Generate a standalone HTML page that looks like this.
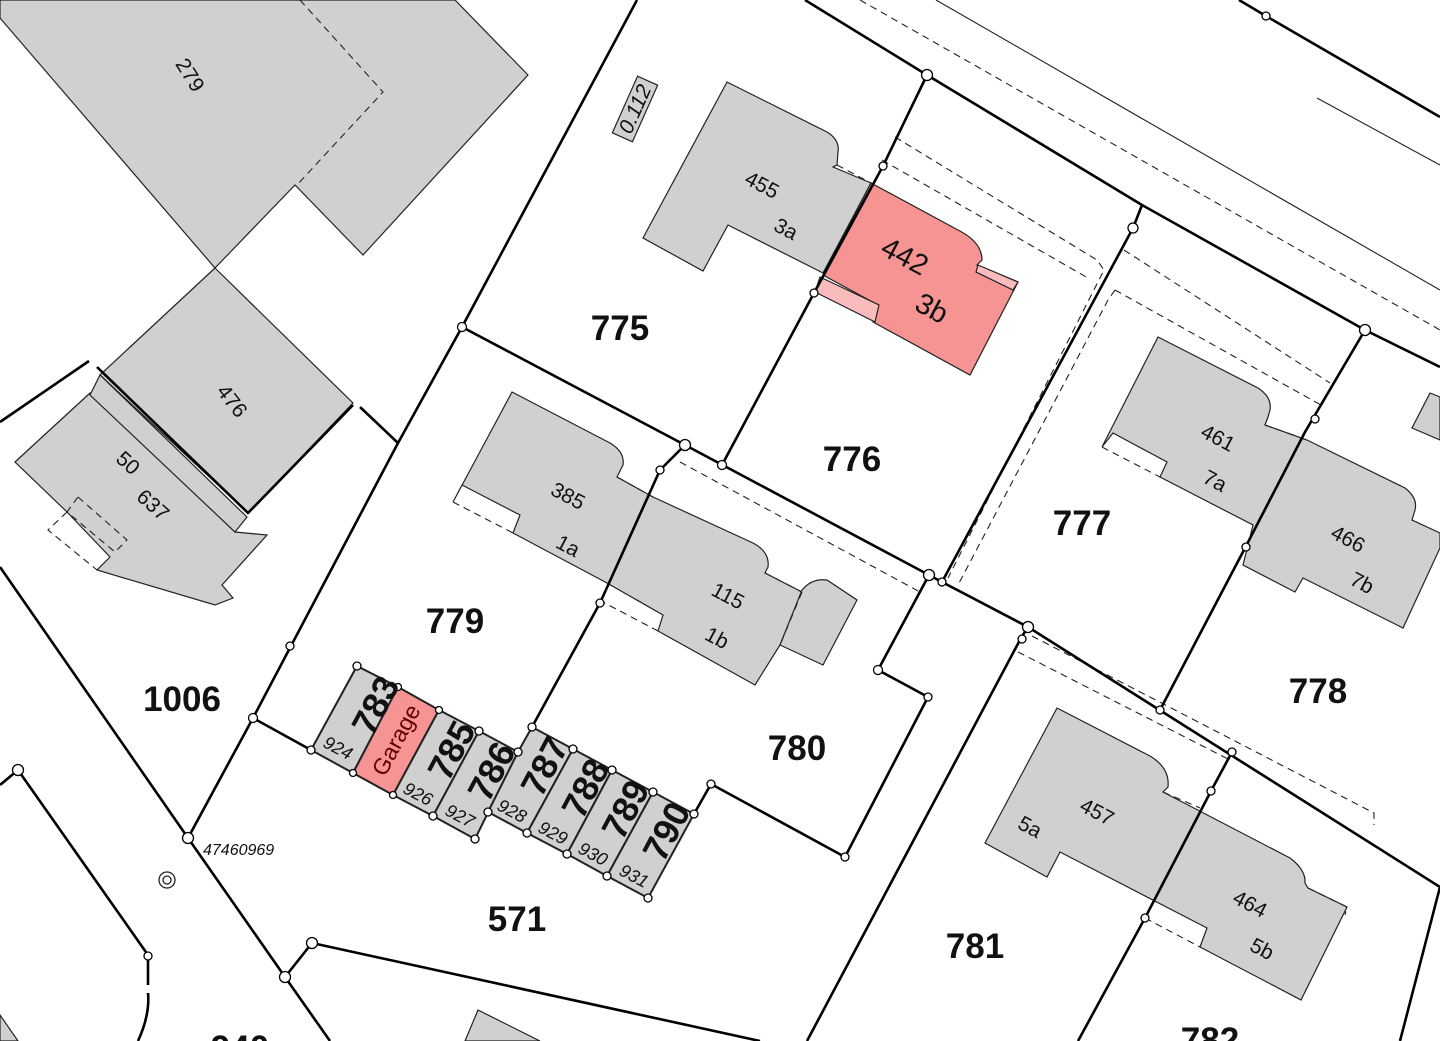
<!DOCTYPE html>
<html><head><meta charset="utf-8"><style>
html,body{margin:0;padding:0;background:#fff;}
svg{display:block;}
text{font-family:"Liberation Sans",sans-serif;fill:#111;}
.b{fill:#d0d0d0;stroke:#222;stroke-width:1.2;}
.r{fill:#f69494;stroke:#222;stroke-width:1.2;}
.lp{fill:#f8bcbc;stroke:#222;stroke-width:1.2;}
.t{fill:none;stroke:#000;stroke-width:2.6;stroke-linejoin:round;}
.th{fill:none;stroke:#222;stroke-width:1.1;}
.d{fill:none;stroke:#222;stroke-width:1.1;stroke-dasharray:7,5;}
.n{fill:#fff;stroke:#000;stroke-width:1.3;}
.p{font-weight:bold;font-size:35px;}
.s{font-size:21px;}
.g{font-size:36px;font-weight:bold;}
.gs{font-size:18px;font-style:italic;}
</style></head><body>
<svg width="1440" height="1041" viewBox="0 0 1440 1041" xmlns="http://www.w3.org/2000/svg">
<polygon class="b" points="0,0 455,0 528,75 363,255 295,185 215,268 0,18"/>
<polyline class="d" points="300,0 383,92 297,185"/>
<polygon class="b" points="215,268 353,403 248,513 100,375"/>
<polygon class="b" points="15,462 90,393 235,532 267,535 222,585 233,598 215,605 97,570 110,557 67,512"/>
<polygon class="b" points="90,395 100,375 247,517 235,532"/>
<polyline class="d" points="67,512 48,530 97,570"/>
<polygon class="d" points="78,497 127,540 115,552 67,512"/>
<rect x="604" y="98" width="62" height="22" class="b" transform="rotate(-66 635 109)"/>
<text x="635" y="116" class="s" font-style="italic" text-anchor="middle" transform="rotate(-66 635 109)">0.112</text>

<path class="b" d="M727,82 L827,132 Q840,140 838,152 L837,165 L833,167 L871,183 L823,273 L728,225 L703,271 L643,238 Z"/>
<polyline class="d" points="837,165 871,183"/>
<path class="r" d="M871,183 L958,230 Q982,242 982,260 L977,265 L1018,282 L970,375 L873,322 L878,305 L823,275 Z"/>
<polygon class="lp" points="820,277 879,305 875,322 815,292"/>
<polygon class="lp" points="978,265 1018,282 1013,290 976,272"/>

<path class="b" d="M512,392 L610,443 Q625,452 623,465 L617,477 L653,497 L753,543 Q770,552 768,567 L765,573 L802,592 L780,645 L755,685 L658,631 L663,615 L607,583 L513,533 L520,515 L462,485 L453,502 Z"/>
<polyline class="d" points="453,502 513,533"/>
<polyline class="d" points="599,600 658,631"/>
<polyline class="d" points="617,477 653,497"/>
<polyline class="d" points="765,573 802,592"/>
<path class="b" d="M802,590 Q812,578 827,580 L857,600 L823,665 L780,645 Z"/>
<polyline class="d" points="802,592 780,645"/>

<path class="b" d="M1158,337 L1258,388 Q1272,397 1270,410 L1268,417 L1265,425 L1307,440 L1405,488 Q1418,498 1415,510 L1412,520 L1440,533 L1440,548 L1403,628 L1303,578 L1295,592 L1243,565 L1253,525 L1160,477 L1167,462 L1113,433 L1102,447 Z"/>
<polyline class="d" points="1102,447 1160,477"/>
<polyline class="d" points="1265,425 1307,440"/>
<polygon class="b" points="1430,393 1440,397 1440,440 1412,428"/>

<path class="b" d="M1057,708 L1150,756 Q1170,768 1168,787 L1163,792 L1290,858 Q1306,870 1305,883 L1308,888 L1347,907 L1301,1000 L1200,947 L1207,928 L1060,852 L1047,877 L985,843 Z"/>
<polyline class="d" points="1163,792 1200,808"/>
<polyline class="d" points="1308,888 1347,907 1345,915"/>
<polyline class="d" points="1145,918 1200,947"/>
<polygon class="b" points="478,1010 540,1041 465,1041"/>
<polygon class="b" points="0,1015 18,1041 0,1041"/>

<polygon class="b" points="357,666 398,687 353,773 311,750" style="stroke-width:2"/>
<polygon class="r" points="398,687 439,710 393,795 353,773" style="stroke-width:2"/>
<polygon class="b" points="439,710 479,731 433,816 393,795" style="stroke-width:2"/>
<polygon class="b" points="479,731 518,752 475,839 433,816" style="stroke-width:2"/>
<polygon class="b" points="532,727 573,749 527,833 488,812 518,752" style="stroke-width:2"/>
<polygon class="b" points="573,749 612,770 567,854 527,833" style="stroke-width:2"/>
<polygon class="b" points="612,770 653,792 607,876 567,854" style="stroke-width:2"/>
<polygon class="b" points="653,792 694,814 648,898 607,876" style="stroke-width:2"/>

<line class="th" x1="936" y1="0" x2="1440" y2="290"/>
<line class="th" x1="1317" y1="98" x2="1440" y2="165"/>
<line class="d" x1="860" y1="0" x2="1440" y2="330"/>
<polyline class="d" points="895,137 1097,260 1104,270 948,578"/>
<polyline class="d" points="882,160 1088,278"/>
<polyline class="d" points="1124,250 1330,383"/>
<polyline class="d" points="1115,290 1321,405"/>
<polyline class="d" points="1115,290 1108,300 958,585"/>
<polyline class="d" points="680,462 920,592"/>
<polyline class="d" points="1032,636 1374,813 1374,825"/>
<polyline class="d" points="1018,652 1230,760"/>

<polyline class="t" points="637,0 462,327 398,443 253,718 188,838"/>
<polyline class="t" points="0,567 188,838 285,977 330,1041"/>
<polyline class="t" points="0,785 18,770 148,955 148,985"/>
<path class="t" d="M148,993 Q150,1015 138,1041"/>
<polyline class="t" points="0,422 89,361"/>
<polyline class="t" points="97,367 248,513 353,405"/>
<polyline class="t" points="360,407 398,443"/>
<polyline class="t" points="462,327 685,445 929,575 942,582 1028,627 1440,887"/>
<polyline class="t" points="722,465 814,293 883,166 927,75"/>
<polyline class="t" points="805,0 927,75 1142,205 1365,330 1440,367"/>
<polyline class="t" points="1239,0 1266,16 1440,117"/>
<polyline class="t" points="1142,205 1133,228 942,582"/>
<polyline class="t" points="1365,330 1305,432 1245,548 1160,710"/>
<polyline class="t" points="929,575 878,670 928,697 845,857 711,784 694,814"/>
<polyline class="t" points="685,445 660,470 600,603 532,727"/>
<polyline class="t" points="1028,627 1021,638 807,1041"/>
<polyline class="t" points="1232,752 1211,791 1145,918 1078,1041"/>
<polyline class="t" points="1440,887 1400,1041"/>
<polyline class="t" points="285,977 312,943 760,1041"/>
<polyline class="t" points="253,718 311,750"/>

<g class="n">
<circle cx="462" cy="327" r="4.5"/><circle cx="685" cy="445" r="5.5"/><circle cx="722" cy="465" r="4.5"/>
<circle cx="814" cy="293" r="4"/><circle cx="883" cy="166" r="4"/><circle cx="927" cy="75" r="5.5"/>
<circle cx="1133" cy="228" r="5"/><circle cx="1365" cy="330" r="5.5"/><circle cx="1266" cy="16" r="4"/>
<circle cx="1315" cy="419" r="4"/><circle cx="1246" cy="547" r="4"/><circle cx="1160" cy="710" r="4"/>
<circle cx="929" cy="575" r="5.5"/><circle cx="942" cy="582" r="4"/><circle cx="1028" cy="627" r="5.5"/><circle cx="1022" cy="639" r="4"/>
<circle cx="878" cy="670" r="4.5"/><circle cx="928" cy="697" r="4"/><circle cx="845" cy="857" r="4"/><circle cx="711" cy="784" r="4"/>
<circle cx="660" cy="470" r="4"/><circle cx="600" cy="603" r="4"/><circle cx="1232" cy="752" r="4"/><circle cx="1211" cy="791" r="4"/><circle cx="1145" cy="918" r="4"/>
<circle cx="290" cy="646" r="4"/><circle cx="253" cy="718" r="4.5"/><circle cx="188" cy="838" r="5.5"/><circle cx="18" cy="770" r="5.5"/>
<circle cx="312" cy="943" r="5.5"/><circle cx="285" cy="977" r="5.5"/><circle cx="148" cy="956" r="4"/>
<circle cx="357" cy="666" r="4"/><circle cx="398" cy="687" r="3.5"/><circle cx="439" cy="710" r="3.5"/><circle cx="479" cy="731" r="4"/>
<circle cx="518" cy="752" r="4"/><circle cx="532" cy="727" r="4"/><circle cx="573" cy="749" r="4"/><circle cx="612" cy="770" r="4"/>
<circle cx="653" cy="792" r="4"/><circle cx="694" cy="814" r="4"/><circle cx="311" cy="750" r="4"/><circle cx="353" cy="773" r="3.5"/>
<circle cx="393" cy="795" r="3.5"/><circle cx="433" cy="816" r="4"/><circle cx="475" cy="839" r="4"/><circle cx="488" cy="812" r="4"/>
<circle cx="527" cy="833" r="4"/><circle cx="567" cy="854" r="4"/><circle cx="607" cy="876" r="4"/><circle cx="648" cy="898" r="4"/>
</g>
<circle cx="167" cy="880" r="8" fill="none" stroke="#222" stroke-width="1.3"/><circle cx="167" cy="880" r="4" fill="none" stroke="#222" stroke-width="1.3"/>

<text class="p" x="620" y="340" text-anchor="middle">775</text>
<text class="p" x="852" y="471" text-anchor="middle">776</text>
<text class="p" x="1082" y="535" text-anchor="middle">777</text>
<text class="p" x="1318" y="703" text-anchor="middle">778</text>
<text class="p" x="455" y="633" text-anchor="middle">779</text>
<text class="p" x="797" y="760" text-anchor="middle">780</text>
<text class="p" x="975" y="958" text-anchor="middle">781</text>
<text class="p" x="1210" y="1052" text-anchor="middle">782</text>
<text class="p" x="182" y="711" text-anchor="middle">1006</text>
<text class="p" x="517" y="931" text-anchor="middle">571</text>
<text class="p" x="240" y="1060" text-anchor="middle">940</text>
<text x="203" y="855" font-size="16" font-style="italic">47460969</text>

<text class="s" x="190" y="82" text-anchor="middle" transform="rotate(58 190 75)">279</text>
<text class="s" x="232" y="408" text-anchor="middle" transform="rotate(52 232 401)">476</text>
<text class="s" x="128" y="470" text-anchor="middle" transform="rotate(42 128 463)">50</text>
<text class="s" x="153" y="512" text-anchor="middle" transform="rotate(42 153 505)">637</text>
<text class="s" x="762" y="192" text-anchor="middle" transform="rotate(28 762 185)">455</text>
<text class="s" x="786" y="236" text-anchor="middle" transform="rotate(28 786 229)">3a</text>
<text x="905" y="266" font-size="29" text-anchor="middle" transform="rotate(28 905 256)">442</text>
<text x="932" y="318" font-size="29" text-anchor="middle" transform="rotate(28 932 308)">3b</text>
<text class="s" x="568" y="503" text-anchor="middle" transform="rotate(28 568 496)">385</text>
<text class="s" x="568" y="553" text-anchor="middle" transform="rotate(28 568 546)">1a</text>
<text class="s" x="728" y="603" text-anchor="middle" transform="rotate(28 728 596)">115</text>
<text class="s" x="717" y="645" text-anchor="middle" transform="rotate(28 717 638)">1b</text>
<text class="s" x="1218" y="445" text-anchor="middle" transform="rotate(28 1218 438)">461</text>
<text class="s" x="1215" y="488" text-anchor="middle" transform="rotate(28 1215 481)">7a</text>
<text class="s" x="1348" y="546" text-anchor="middle" transform="rotate(28 1348 539)">466</text>
<text class="s" x="1362" y="590" text-anchor="middle" transform="rotate(28 1362 583)">7b</text>
<text class="s" x="1097" y="819" text-anchor="middle" transform="rotate(28 1097 812)">457</text>
<text class="s" x="1030" y="834" text-anchor="middle" transform="rotate(28 1030 827)">5a</text>
<text class="s" x="1250" y="911" text-anchor="middle" transform="rotate(28 1250 904)">464</text>
<text class="s" x="1262" y="956" text-anchor="middle" transform="rotate(28 1262 949)">5b</text>

<text class="g" x="375" y="718" text-anchor="middle" transform="rotate(-62 375 705)">783</text>
<text font-size="23" x="396" y="748" text-anchor="middle" style="fill:#600" transform="rotate(-62 396 740)">Garage</text>
<text class="g" x="451" y="763" text-anchor="middle" transform="rotate(-62 451 750)">785</text>
<text class="g" x="491" y="784" text-anchor="middle" transform="rotate(-62 491 771)">786</text>
<text class="g" x="544" y="779" text-anchor="middle" transform="rotate(-62 544 766)">787</text>
<text class="g" x="585" y="801" text-anchor="middle" transform="rotate(-62 585 788)">788</text>
<text class="g" x="625" y="822" text-anchor="middle" transform="rotate(-62 625 809)">789</text>
<text class="g" x="666" y="844" text-anchor="middle" transform="rotate(-62 666 831)">790</text>
<text class="gs" x="338" y="754" text-anchor="middle" transform="rotate(28 338 748)">924</text>
<text class="gs" x="418" y="800" text-anchor="middle" transform="rotate(28 418 794)">926</text>
<text class="gs" x="460" y="822" text-anchor="middle" transform="rotate(28 460 816)">927</text>
<text class="gs" x="512" y="817" text-anchor="middle" transform="rotate(28 512 811)">928</text>
<text class="gs" x="553" y="839" text-anchor="middle" transform="rotate(28 553 833)">929</text>
<text class="gs" x="593" y="860" text-anchor="middle" transform="rotate(28 593 854)">930</text>
<text class="gs" x="634" y="882" text-anchor="middle" transform="rotate(28 634 876)">931</text>
</svg>
</body></html>
